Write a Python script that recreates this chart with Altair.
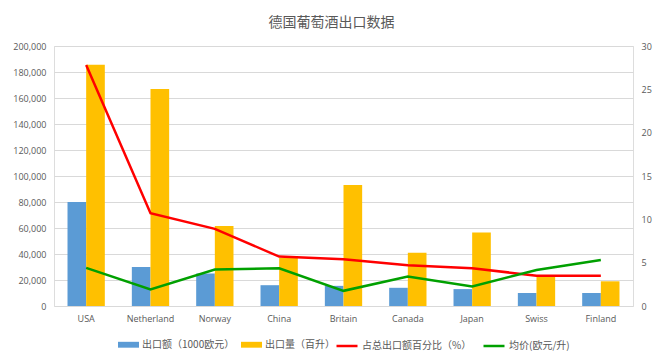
import altair as alt
import pandas as pd

countries = ["USA", "Netherland", "Norway", "China", "Britain", "Canada", "Japan", "Swiss", "Finland"]
export_value = [80000, 30000, 25000, 16000, 15500, 14000, 13000, 10000, 10000]      # 出口额（1000欧元）
export_volume = [185500, 167000, 61500, 37000, 93000, 41000, 56500, 23000, 19000]   # 出口量（百升）
share_pct = [27.8, 10.7, 8.9, 5.7, 5.4, 4.7, 4.35, 3.5, 3.5]                        # 占总出口额百分比（%）
avg_price = [4.4, 1.9, 4.2, 4.35, 1.75, 3.4, 2.25, 4.15, 5.3]                       # 均价(欧元/升)

bar_names = ["出口额（1000欧元）", "出口量（百升）"]
line_names = ["占总出口额百分比（%）", "均价(欧元/升)"]

bars = pd.DataFrame(
    [{"country": c, "series": bar_names[0], "value": v} for c, v in zip(countries, export_value)]
    + [{"country": c, "series": bar_names[1], "value": v} for c, v in zip(countries, export_volume)]
)
lines = pd.DataFrame(
    [{"country": c, "series": line_names[0], "value": v} for c, v in zip(countries, share_pct)]
    + [{"country": c, "series": line_names[1], "value": v} for c, v in zip(countries, avg_price)]
)

AX_FONT = "Open Sans"
CJK = "Noto Sans CJK SC"
GRAY = "#595959"

xenc = alt.X(
    "country:N", sort=countries, title=None,
    scale=alt.Scale(paddingInner=0.42, paddingOuter=0.21),
    axis=alt.Axis(labelAngle=0, ticks=False, domain=False, labelPadding=8,
                  labelFont=AX_FONT, labelFontSize=9, labelColor=GRAY),
)

bar_layer = alt.Chart(bars).mark_bar().encode(
    x=xenc,
    xOffset=alt.XOffset("series:N", sort=bar_names),
    y=alt.Y("value:Q", title=None,
            scale=alt.Scale(domain=[0, 200000], nice=False),
            axis=alt.Axis(values=list(range(0, 200001, 20000)), format=",.0f", domain=False, ticks=False,
                          labelPadding=8, gridColor="#D9D9D9", gridWidth=1,
                          labelFont=AX_FONT, labelFontSize=9, labelColor=GRAY)),
    color=alt.Color("series:N", sort=bar_names,
                    scale=alt.Scale(domain=bar_names, range=["#5B9BD5", "#FFC000"]),
                    legend=alt.Legend(title=None, orient="none", legendX=64, legendY=288,
                                      direction="horizontal",
                                      symbolType="M-1,-0.28H1V0.28H-1Z", symbolSize=441,
                                      symbolStrokeWidth=0, labelFont=CJK, labelFontSize=10,
                                      labelColor=GRAY, columnPadding=6, labelOffset=3)),
)

line_layer = alt.Chart(lines).mark_line(strokeWidth=2.5).encode(
    x=alt.X("country:N", sort=countries),
    y=alt.Y("value:Q", title=None,
            scale=alt.Scale(domain=[0, 30], nice=False),
            axis=alt.Axis(orient="right", values=[0, 5, 10, 15, 20, 25, 30], grid=False, domain=False,
                          ticks=False, labelPadding=8,
                          labelFont=AX_FONT, labelFontSize=9, labelColor=GRAY)),
    color=alt.Color("series:N", sort=line_names,
                    scale=alt.Scale(domain=line_names, range=["#FF0000", "#00A000"]),
                    legend=alt.Legend(title=None, orient="none", legendX=281, legendY=288,
                                      direction="horizontal",
                                      symbolType="stroke", symbolSize=441, symbolStrokeWidth=2.5,
                                      labelFont=CJK, labelFontSize=10, labelColor=GRAY,
                                      columnPadding=6, labelOffset=3)),
)

chart = alt.layer(bar_layer, line_layer).resolve_scale(
    y="independent", color="independent"
).properties(
    width=579, height=260,
    title=alt.TitleParams("德国葡萄酒出口数据", font=CJK, fontSize=14, fontWeight="normal",
                          color=GRAY, anchor="middle", dx=-12, offset=12),
    autosize=alt.AutoSizeParams(type="none"),
    padding={"left": 46, "top": 38, "right": 23, "bottom": 49},
).configure_view(stroke=None).configure(background="white")

chart.save("out.html", embed_options={"renderer": "svg", "actions": False})
